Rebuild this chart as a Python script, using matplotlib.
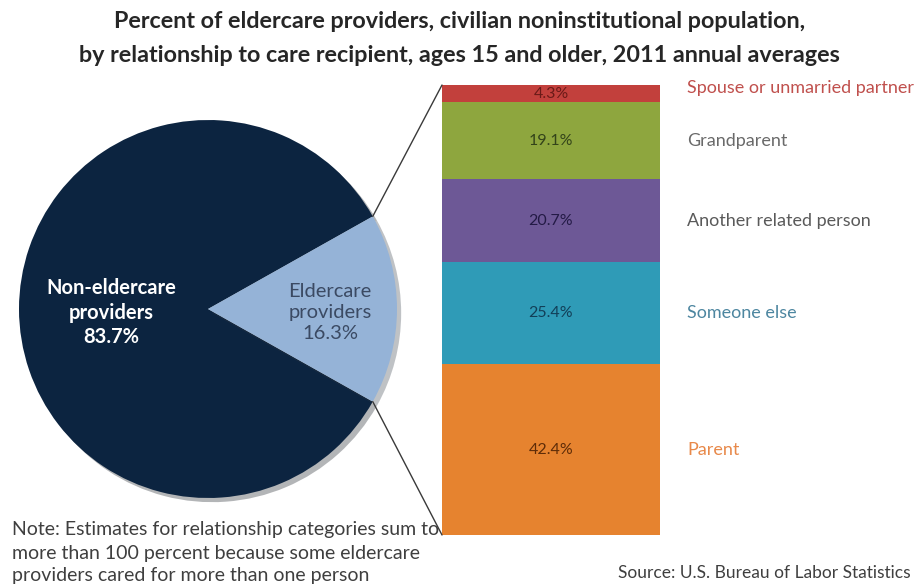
import matplotlib
matplotlib.use("Agg")
import matplotlib.pyplot as plt
from matplotlib.patches import ConnectionPatch
import matplotlib.patheffects as pe
import numpy as np

plt.rcParams['font.family'] = ['Lato', 'DejaVu Sans']

# ---- data ----
pie_labels = ["Eldercare\nproviders\n16.3%", "Non-eldercare\nproviders\n83.7%"]
pie_values = [16.3, 83.7]
pie_colors = ["#95b3d7", "#0c2440"]

bar_categories = ["Parent", "Someone else", "Another related person",
                  "Grandparent", "Spouse or unmarried partner"]
bar_values = [42.4, 25.4, 20.7, 19.1, 4.3]
bar_colors = ["#e6832f", "#2f9bb7", "#6d5896", "#8ea63e", "#c2403c"]
value_text_colors = ["#5e2c08", "#123f58", "#231a45", "#33431a", "#6a1a18"]
cat_text_colors = ["#e8894a", "#4d86a0", "#5a5a5a", "#6a6a6a", "#c0504d"]

title_lines = ["Percent of eldercare providers, civilian noninstitutional population,",
               "by relationship to care recipient, ages 15 and older, 2011 annual averages"]
note = ("Note: Estimates for relationship categories sum to\n"
        "more than 100 percent because some eldercare\n"
        "providers cared for more than one person")
source = "Source: U.S. Bureau of Labor Statistics"

W, H = 919, 587
fig = plt.figure(figsize=(W / 100, H / 100), dpi=100)
fig.patch.set_facecolor("white")

def px_axes(x0, y0, x1, y1):
    return fig.add_axes([x0 / W, 1 - y1 / H, (x1 - x0) / W, (y1 - y0) / H])

bar_shadow = [pe.SimplePatchShadow(offset=(3, -3), shadow_rgbFace="#808080", alpha=0.35),
              pe.Normal()]
pie_shadow = [pe.SimplePatchShadow(offset=(3, -3), alpha=0.3), pe.Normal()]

# ---- pie ----
axp = px_axes(19, 120, 397, 498)
half = pie_values[0] / 100 * 360 / 2
wedges, _ = axp.pie(pie_values, colors=pie_colors, startangle=-half,
                    radius=1.0, counterclock=True)
wedges[0].set_zorder(3)
wedges[1].set_zorder(2)
for w in wedges:
    w.set_path_effects(pie_shadow)
axp.set_xlim(-1, 1)
axp.set_ylim(-1, 1)
axp.set_aspect("equal")
axp.axis("off")
axp.text(0.645, -0.02, pie_labels[0], ha="center", va="center",
         fontsize=14.5, color="#3b4a63", linespacing=1.28, zorder=5)
axp.text(-0.51, -0.02, pie_labels[1], ha="center", va="center",
         fontsize=14.5, color="white", fontweight="bold", linespacing=1.28, zorder=5)

# ---- stacked bar ----
axb = px_axes(442, 85, 660, 535)
total = sum(bar_values)
bottoms = np.concatenate([[0], np.cumsum(bar_values)[:-1]])
n = len(bar_values)
for i in range(n):
    v, b = bar_values[i], bottoms[i]
    rects = axb.bar(0.5, v, width=1.0, bottom=b, color=bar_colors[i],
                    edgecolor="none", zorder=2 + (n - i))
    for r in rects:
        r.set_path_effects(bar_shadow)
    mid = b + v / 2
    axb.text(0.5, mid, f"{v:.1f}%", ha="center", va="center",
             fontsize=11.5, color=value_text_colors[i], zorder=20)
    ytxt = mid + (1.5 if v < 5 else 0)
    axb.text(1.125, ytxt, bar_categories[i], ha="left", va="center", fontsize=13,
             color=cat_text_colors[i], clip_on=False, zorder=20)
axb.set_xlim(0, 1)
axb.set_ylim(0, total)
axb.axis("off")

# ---- connector lines ----
th = np.deg2rad(half)
for sgn, ybar in ((1, total), (-1, 0)):
    con = ConnectionPatch(xyA=(np.cos(th), sgn * np.sin(th)), coordsA=axp.transData,
                          xyB=(0, ybar), coordsB=axb.transData,
                          color="#3a3a3a", lw=1.0)
    fig.add_artist(con)

# ---- texts ----
for i, line in enumerate(title_lines):
    fig.text(0.5, 1 - (22 + 33 * i) / H, line, ha="center", va="center",
             fontsize=16.8, fontweight="bold", color="#262626")
for i, line in enumerate(note.split("\n")):
    fig.text(12 / W, 1 - (530 + 23 * i) / H, line, ha="left", va="center",
             fontsize=14, color="#3f3f3f")
fig.text(618 / W, 1 - 573 / H, source, ha="left", va="center", fontsize=12.5,
         color="#3f3f3f")

fig.savefig("out.png", dpi=100, facecolor="white")
